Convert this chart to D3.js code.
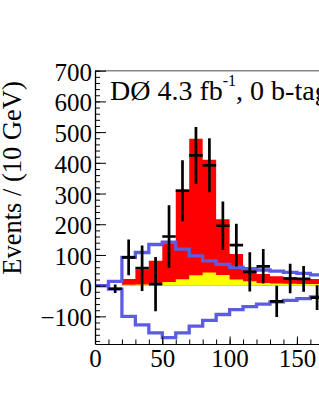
<!DOCTYPE html>
<html>
<head>
<meta charset="utf-8">
<script src="https://cdn.jsdelivr.net/npm/d3@7"></script>
<style>
html,body{margin:0;padding:0;background:#fff;overflow:hidden;}
svg{display:block;}
</style>
</head>
<body>
<svg id="chart" width="319" height="412"></svg>
<script>
// ---- data ----
const binLow   = [0,10,20,30,40,50,60,70,80,90,100,110,120,130,140,150,160];
const binWidth = 10;
const redTotal = [0,0,22,53,81,138,313,478,410,216,103,52,38,31,27,24,22];
const yellowMC = [0,0,3,4,8,12,21,34,43,35,20,14,9,7,6,5,5];
const sysUp    = [0,14,92,108,134,142,119,97,81,69,60,55,51,47,43,40,35];
const sysDown  = [0,-11,-100,-128,-154,-169,-154,-132,-113,-94,-78,-68,-60,-53,-48,-42,-37];
const dataVal  = [null,-10,92,57,5,160,309,424,392,195,132,45,63,-51,23,22,-39];
const dataErr  = [null,14,58,74,88,102,99,93,88,79,70,64,56,51,48,42,40];
const xTicks   = [0,50,100,150];
const yTicks   = [-100,0,100,200,300,400,500,600,700];
const yTitle   = "Events / (10 GeV)";

const svg = d3.select("#chart");
const pL = 95, pR = 95 + 1.346*200, pT = 70.7, pB = 344;
const x = d3.scaleLinear().domain([0,200]).range([pL,pR]);
const y = d3.scaleLinear().domain([-190,700]).range([pB,pT]);

svg.append("clipPath").attr("id","plotclip").append("rect")
  .attr("x",pL).attr("y",pT).attr("width",pR-pL).attr("height",pB-pT);
const plot = svg.append("g").attr("clip-path","url(#plotclip)");

function stepPts(vals){
  const pts = binLow.map((b,i)=>[b, vals[i]]);
  pts.push([binLow[binLow.length-1]+binWidth, vals[vals.length-1]]);
  return pts;
}
const area = d3.area().curve(d3.curveStepAfter)
  .x(d=>x(d[0])).y0(y(0)).y1(d=>y(d[1]));
const line = d3.line().curve(d3.curveStepAfter)
  .x(d=>x(d[0])).y(d=>y(d[1]));

plot.append("path").datum(stepPts(redTotal)).attr("d",area).attr("fill","#ff0000");
plot.append("path").datum(stepPts(yellowMC)).attr("d",area).attr("fill","#ffff00");

plot.append("path").datum(stepPts(sysUp)).attr("d",line)
  .attr("fill","none").attr("stroke","#5b5be3").attr("stroke-width",3.3);
plot.append("path").datum(stepPts(sysDown)).attr("d",line)
  .attr("fill","none").attr("stroke","#5b5be3").attr("stroke-width",3.3);

// data points
const pts = binLow.map((b,i)=>({lo:b, v:dataVal[i], e:dataErr[i]})).filter(d=>d.v!==null);
const dg = plot.append("g").attr("stroke","#000").attr("stroke-width",2.7);
dg.selectAll("line.v").data(pts).join("line").attr("class","v")
  .attr("x1",d=>x(d.lo+binWidth/2)).attr("x2",d=>x(d.lo+binWidth/2))
  .attr("y1",d=>y(d.v+d.e)).attr("y2",d=>y(d.v-d.e));
dg.selectAll("line.h").data(pts).join("line").attr("class","h")
  .attr("x1",d=>x(d.lo)).attr("x2",d=>x(d.lo+binWidth))
  .attr("y1",d=>y(d.v)).attr("y2",d=>y(d.v));

// frame top
svg.append("line").attr("x1",pL).attr("x2",pR).attr("y1",pT).attr("y2",pT)
  .attr("stroke","#888").attr("stroke-width",1.5);

const font = "'Liberation Serif','Times New Roman',serif";

// y axis
const yMinor = svg.append("g").attr("transform",`translate(${pL},0)`)
  .call(d3.axisLeft(y).tickValues(d3.range(-180,701,20)).tickSize(-5).tickFormat(""));
yMinor.select(".domain").remove();
const yAx = svg.append("g").attr("transform",`translate(${pL},0)`)
  .call(d3.axisLeft(y).tickValues(yTicks).tickSize(-11).tickPadding(3).tickSizeOuter(0));
yAx.select(".domain").attr("stroke","#000").attr("stroke-width",1.3);
yAx.selectAll("text").attr("font-family",font).attr("font-size",25).attr("fill","#000").attr("dy","0.38em");

// x axis
const xMinor = svg.append("g").attr("transform",`translate(0,${pB})`)
  .call(d3.axisBottom(x).tickValues(d3.range(0,201,10)).tickSize(-4.5).tickFormat(""));
xMinor.select(".domain").remove();
const xAx = svg.append("g").attr("transform",`translate(0,${pB})`)
  .call(d3.axisBottom(x).tickValues(xTicks).tickSize(-7.5).tickPadding(5).tickSizeOuter(0));
xAx.select(".domain").attr("stroke","#000").attr("stroke-width",1.2);
xAx.selectAll("text").attr("font-family",font).attr("font-size",25).attr("fill","#000").attr("dy","0.71em");

// y title
svg.append("text").attr("transform","translate(21,178) rotate(-90)")
  .attr("text-anchor","middle").attr("font-family",font).attr("font-size",26.5)
  .attr("fill","#000").text(yTitle);

// legend text
const t = svg.append("text").attr("x",110).attr("y",100)
  .attr("font-family",font).attr("font-size",28).attr("fill","#000");
t.append("tspan").text("DØ 4.3 fb");
t.append("tspan").attr("font-size",16).attr("dy",-14).text("-1");
t.append("tspan").attr("dy",14).text(", 0 b-tag");
</script>
</body>
</html>
